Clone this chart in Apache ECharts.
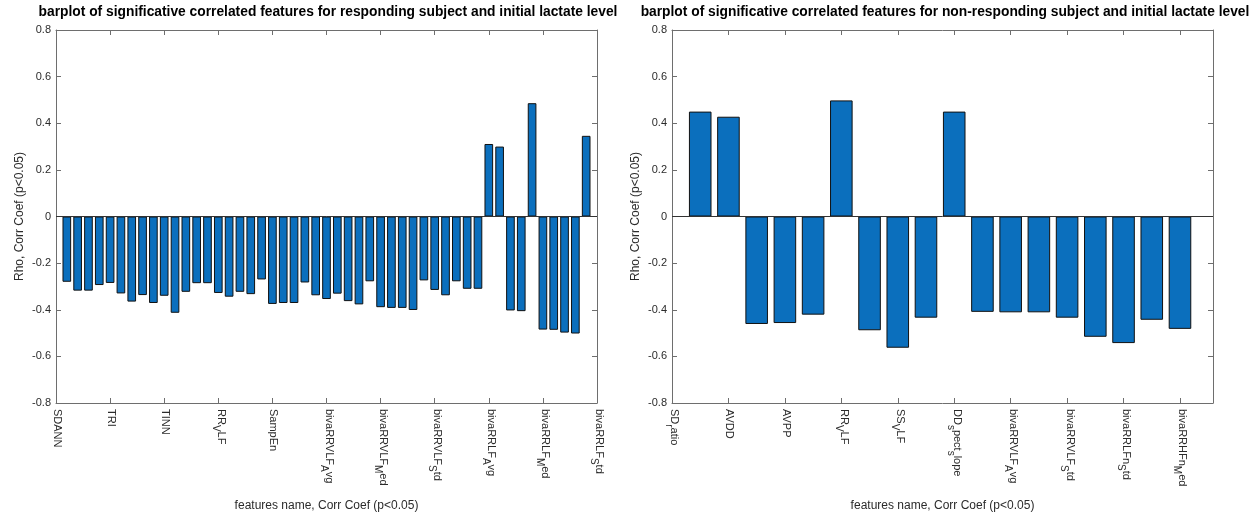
<!DOCTYPE html>
<html>
<head>
<meta charset="utf-8">
<script src="https://cdn.jsdelivr.net/npm/echarts@6/dist/echarts.min.js"></script>
<style>
  html, body { margin: 0; padding: 0; background: #fff; }
  #chart { width: 1258px; height: 517px; }
</style>
</head>
<body>
<div id="chart"></div>
<script>
// Tick labels (TeX-style: "_X" marks a one-letter subscript)
const respTickLabels = ['SDANN', 'TRI', 'TINN', 'RR_VLF', 'SampEn',
  'bivaRRVLF_Avg', 'bivaRRVLF_Med', 'bivaRRVLF_Std',
  'bivaRRLF_Avg', 'bivaRRLF_Med', 'bivaRRLF_Std'];
const nonRespTickLabels = ['SD_ratio', 'AVDD', 'AVPP', 'RR_VLF', 'SS_VLF',
  'DD_spect_slope', 'bivaRRVLF_Avg', 'bivaRRVLF_Std', 'bivaRRLFn_Std', 'bivaRRHFn_Med'];

// Spearman rho of each significant feature (p<0.05)
const respRho = [
  -0.280, -0.318, -0.318, -0.294, -0.285, -0.330, -0.365, -0.337, -0.371, -0.340,
  -0.413, -0.323, -0.286, -0.286, -0.328, -0.344, -0.323, -0.333, -0.270, -0.375,
  -0.371, -0.371, -0.283, -0.338, -0.354, -0.331, -0.363, -0.377, -0.278, -0.389,
  -0.392, -0.392, -0.401, -0.274, -0.315, -0.338, -0.278, -0.310, -0.310, 0.311,
  0.300, -0.403, -0.406, 0.486, -0.485, -0.486, -0.498, -0.502, 0.346
];
const nonRespRho = [
  0.450, 0.428, -0.461, -0.457, -0.421, 0.498, -0.488, -0.563, -0.434, 0.450,
  -0.409, -0.411, -0.411, -0.434, -0.516, -0.543, -0.443, -0.482
];

const titles = [
  'barplot of significative correlated features for responding subject and initial lactate level',
  'barplot of significative correlated features for non-responding subject and initial lactate level'
];
const yName = 'Rho, Corr Coef (p<0.05)';
const xName = 'features name, Corr Coef (p<0.05)';

const FONT = '"Liberation Sans", Arial, Helvetica, sans-serif';
const AXIS_COLOR = '#6e6e6e';
const TEXT_COLOR = '#2b2b2b';

// Convert "ab_Xcd" into rich text with X as subscript
function texLabel(s) {
  const parts = s.split('_');
  let out = '{m|' + parts[0] + '}';
  for (let i = 1; i < parts.length; i++) {
    const p = parts[i];
    out += '{s|' + p.charAt(0) + '}';
    if (p.length > 1) out += '{m|' + p.slice(1) + '}';
  }
  return out;
}

// main text sits at the top of the line, subscripts drop to its bottom
const richStyles = {
  m: { fontSize: 11, fontFamily: FONT, color: TEXT_COLOR, lineHeight: 13, verticalAlign: 'top' },
  s: { fontSize: 10, fontFamily: FONT, color: TEXT_COLOR, lineHeight: 16, verticalAlign: 'bottom' }
};

const grids = [
  { left: 56, right: 661, top: 30, bottom: 111 },
  { left: 672, right: 45, top: 30, bottom: 111 }
];

function xAxes(gridIndex, max, step, labels) {
  const common = {
    type: 'value', gridIndex, min: 0, max, interval: step,
    splitLine: { show: false },
    axisLine: { show: true, onZero: false, lineStyle: { color: AXIS_COLOR, width: 1 } },
    axisTick: { show: true, inside: true, length: 5, lineStyle: { color: AXIS_COLOR } }
  };
  return [
    Object.assign({}, common, {
      position: 'bottom',
      axisLabel: {
        show: true, rotate: -90, margin: 6, showMaxLabel: true, showMinLabel: true,
        hideOverlap: false,
        formatter: v => {
          const k = Math.round(v / step);
          if (Math.abs(v - k * step) > 1e-6 || k >= labels.length) return '';
          return texLabel(labels[k]);
        },
        rich: richStyles
      },
      name: xName, nameLocation: 'middle', nameGap: 97,
      nameTextStyle: { fontSize: 12, fontFamily: FONT, color: TEXT_COLOR }
    }),
    Object.assign({}, common, { position: 'top', axisLabel: { show: false } })
  ];
}

function yAxes(gridIndex) {
  const common = {
    type: 'value', gridIndex, min: -0.8, max: 0.8, interval: 0.2,
    splitLine: { show: false },
    axisLine: { show: true, onZero: false, lineStyle: { color: AXIS_COLOR, width: 1 } },
    axisTick: { show: true, inside: true, length: 5, lineStyle: { color: AXIS_COLOR } }
  };
  return [
    Object.assign({}, common, {
      position: 'left',
      axisLabel: {
        fontSize: 11, fontFamily: FONT, color: TEXT_COLOR, margin: 5,
        formatter: v => String(Math.round(v * 10) / 10)
      },
      name: yName, nameLocation: 'middle', nameGap: 30,
      nameTextStyle: { fontSize: 12, fontFamily: FONT, color: TEXT_COLOR }
    }),
    Object.assign({}, common, { position: 'right', axisLabel: { show: false } })
  ];
}

function barSeries(values, xAxisIndex, yAxisIndex) {
  return {
    type: 'bar',
    xAxisIndex, yAxisIndex,
    data: values.map((v, i) => [i + 1, v]),
    barWidth: '80%',
    itemStyle: { color: '#0b6fbd', borderColor: '#111', borderWidth: 1 },
    silent: true,
    animation: false,
    markLine: {
      silent: true, symbol: 'none',
      label: { show: false },
      lineStyle: { color: '#333', width: 1, type: 'solid' },
      data: [{ yAxis: 0 }]
    }
  };
}

const titleStyle = { fontSize: 13.8, fontWeight: 'bold', fontFamily: FONT, color: '#000' };

const chart = echarts.init(document.getElementById('chart'), null, { renderer: 'canvas' });
chart.setOption({
  backgroundColor: '#ffffff',
  animation: false,
  title: [
    { text: titles[0], left: 328, top: 5, textAlign: 'center', padding: 0, textStyle: titleStyle },
    { text: titles[1], left: 945, top: 5, textAlign: 'center', padding: 0, textStyle: titleStyle }
  ],
  grid: grids,
  xAxis: [...xAxes(0, 50, 5, respTickLabels), ...xAxes(1, 19.17, 2, nonRespTickLabels)],
  yAxis: [...yAxes(0), ...yAxes(1)],
  series: [
    barSeries(respRho, 0, 0),
    barSeries(nonRespRho, 2, 2)
  ]
});
</script>
</body>
</html>
